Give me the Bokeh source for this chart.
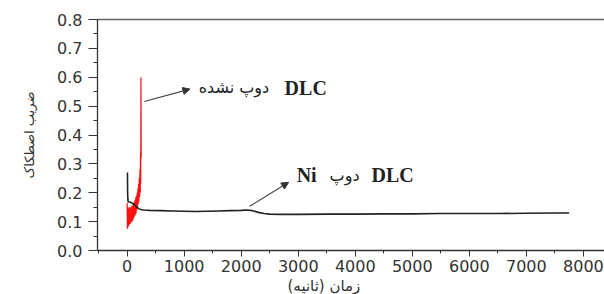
from bokeh.plotting import figure
from bokeh.models import (SingleIntervalTicker, NumeralTickFormatter, LinearAxis,
                          FixedTicker, Range1d, Arrow, NormalHead, Label, Title)
from bokeh.embed import file_html
from bokeh.resources import INLINE

# ---- data ----
undoped_t = [0, 4, 8, 14, 20, 26, 32, 38, 44, 50, 56, 62, 68, 74, 80, 86, 92, 98,
             104, 110, 116, 122, 128, 134, 140, 146, 152, 158, 164, 170, 176, 182,
             188, 194, 200, 206, 212, 218, 224, 230, 234, 238, 242, 246]
undoped_mu = [0.165, 0.075, 0.150, 0.080, 0.145, 0.085, 0.150, 0.090, 0.140, 0.092,
              0.150, 0.095, 0.145, 0.100, 0.155, 0.100, 0.150, 0.105, 0.160, 0.110,
              0.165, 0.115, 0.170, 0.120, 0.175, 0.125, 0.185, 0.130, 0.190, 0.140,
              0.200, 0.150, 0.215, 0.160, 0.230, 0.170, 0.250, 0.185, 0.280, 0.200,
              0.340, 0.230, 0.600, 0.320]

ni_t = [5, 8, 15, 40, 80, 120, 160, 200, 250, 300, 400, 600, 800, 1000, 1200, 1400,
        1600, 1800, 2000, 2100, 2200, 2300, 2400, 2500, 2700, 3000, 3500, 4000, 4500,
        5000, 5500, 6000, 6500, 7000, 7500, 7750]
ni_mu = [0.270, 0.200, 0.170, 0.168, 0.165, 0.160, 0.152, 0.145, 0.141, 0.140, 0.139,
         0.138, 0.137, 0.136, 0.135, 0.136, 0.137, 0.138, 0.139, 0.140, 0.138, 0.132,
         0.128, 0.126, 0.125, 0.125, 0.126, 0.126, 0.127, 0.127, 0.128, 0.128, 0.128,
         0.129, 0.130, 0.130]

x_label = "زمان (ثانیه)"
y_label = "ضریب اصطکاک"

TICK_FONT = "DejaVu Sans"

p = figure(width=604, height=294, output_backend="svg", toolbar_location=None,
           x_range=Range1d(-520, 8370), y_range=Range1d(0, 0.8),
           min_border_left=97, min_border_right=0, min_border_top=19,
           min_border_bottom=44)
p.outline_line_color = None
p.xgrid.visible = False
p.ygrid.visible = False

p.line(undoped_t, undoped_mu, line_color="#ff1010", line_width=1.2)
p.line(ni_t, ni_mu, line_color="#222222", line_width=1.6)

for ax in (p.xaxis[0], p.yaxis[0]):
    ax.axis_line_color = "#333333"
    ax.axis_line_width = 1.3
    ax.major_tick_line_color = "#333333"
    ax.minor_tick_line_color = "#333333"
    ax.major_tick_in = 0
    ax.minor_tick_in = 0
    ax.major_label_text_font = TICK_FONT
    ax.major_label_text_font_size = "16px"
    ax.major_label_text_color = "#333333"

p.xaxis[0].major_tick_out = 6
p.xaxis[0].minor_tick_out = 3
p.yaxis[0].major_tick_out = 9
p.yaxis[0].minor_tick_out = 4

p.xaxis[0].ticker = SingleIntervalTicker(interval=1000, num_minor_ticks=2)
p.yaxis[0].ticker = SingleIntervalTicker(interval=0.1, num_minor_ticks=2)
p.yaxis[0].formatter = NumeralTickFormatter(format="0.0")
p.xaxis[0].major_label_standoff = 3
p.yaxis[0].major_label_standoff = 6

p.yaxis[0].axis_label = y_label
p.yaxis[0].axis_label_text_font = "DejaVu Sans"
p.yaxis[0].axis_label_text_font_style = "normal"
p.yaxis[0].axis_label_text_font_size = "13px"
p.yaxis[0].axis_label_text_color = "#333333"
p.yaxis[0].axis_label_standoff = 17

top = LinearAxis(ticker=FixedTicker(ticks=[]), major_label_text_font_size="0px",
                 axis_line_color="#666666", axis_line_width=1.3,
                 major_tick_out=0, minor_tick_out=0)
p.add_layout(top, "above")

# x-axis title, left of the frame centre as in the reference
p.add_layout(Title(text=x_label, align="left", offset=190, standoff=0,
                   text_font="DejaVu Sans", text_font_size="15px",
                   text_font_style="normal", text_color="#333333"), "below")

# annotations
p.add_layout(Arrow(end=NormalHead(size=7, fill_color="#333333", line_color="#333333"),
                   x_start=301, y_start=0.516, x_end=1101, y_end=0.559,
                   line_color="#444444", line_width=1.2))
p.add_layout(Arrow(end=NormalHead(size=7, fill_color="#333333", line_color="#333333"),
                   x_start=2148, y_start=0.153, x_end=2831, y_end=0.236,
                   line_color="#444444", line_width=1.2))

p.add_layout(Label(x=1254, y=0.563, text="دوپ نشده", text_font="DejaVu Sans",
                   text_font_size="16px", text_baseline="middle", text_color="#222222"))
p.add_layout(Label(x=2761, y=0.563, text="DLC", text_font="Liberation Serif",
                   text_font_size="20px", text_font_style="bold",
                   text_baseline="middle", text_color="#222222"))
p.add_layout(Label(x=2972, y=0.260, text="Ni", text_font="Liberation Serif",
                   text_font_size="20px", text_font_style="bold",
                   text_baseline="middle", text_color="#222222"))
p.add_layout(Label(x=3550, y=0.260, text="دوپ", text_font="DejaVu Sans",
                   text_font_size="16px", text_baseline="middle", text_color="#222222"))
p.add_layout(Label(x=4286, y=0.260, text="DLC", text_font="Liberation Serif",
                   text_font_size="20px", text_font_style="bold",
                   text_baseline="middle", text_color="#222222"))

open("out.html", "w").write(file_html(p, INLINE))
